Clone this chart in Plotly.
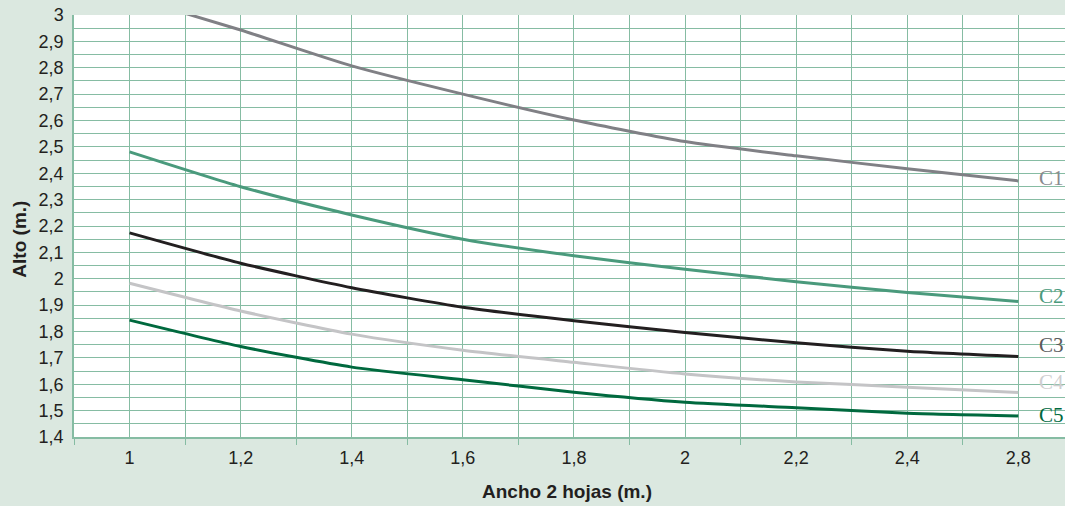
import plotly.graph_objects as go

# ---- data ----
x_labels = ["1", "1,2", "1,4", "1,6", "1,8", "2", "2,2", "2,4", "2,8"]
series_names = ["C1", "C2", "C3", "C4", "C5"]
c1 = [3.07, 2.943, 2.807, 2.700, 2.602, 2.520, 2.466, 2.417, 2.371]
c2 = [2.481, 2.349, 2.242, 2.150, 2.087, 2.036, 1.989, 1.948, 1.914]
c3 = [2.174, 2.059, 1.966, 1.892, 1.841, 1.796, 1.757, 1.725, 1.705]
c4 = [1.983, 1.878, 1.790, 1.729, 1.683, 1.639, 1.609, 1.589, 1.569]
c5 = [1.843, 1.743, 1.665, 1.617, 1.570, 1.532, 1.511, 1.490, 1.480]
y_tick_values = [1.4, 1.5, 1.6, 1.7, 1.8, 1.9, 2.0, 2.1, 2.2, 2.3, 2.4, 2.5, 2.6, 2.7, 2.8, 2.9, 3.0]
y_tick_labels = ["1,4", "1,5", "1,6", "1,7", "1,8", "1,9", "2", "2,1", "2,2", "2,3",
                 "2,4", "2,5", "2,6", "2,7", "2,8", "2,9", "3"]

# ---- style ----
line_colors = ["#808085", "#4a9a7c", "#231f20", "#c4c4c6", "#00693e"]
label_colors = ["#8a8a8e", "#4a9a7c", "#5a5a5c", "#cfcfd1", "#00693e"]
label_dy = [0.012, 0.022, 0.042, 0.038, 0.002]
bg = "#dbe8e0"
grid = "#86bca3"

xs = list(range(len(x_labels)))
all_series = [c1, c2, c3, c4, c5]

fig = go.Figure()
for name, ys, col in zip(series_names, all_series, line_colors):
    fig.add_trace(go.Scatter(
        x=xs, y=ys, mode="lines", name=name,
        line=dict(color=col, width=3, shape="spline", smoothing=0.6),
        showlegend=False, hoverinfo="skip"))

for name, ys, col, dy in zip(series_names, all_series, label_colors, label_dy):
    fig.add_annotation(
        x=xs[-1] + 0.30, y=ys[-1] + dy, xref="x", yref="y",
        text=name, showarrow=False, xanchor="center", yanchor="middle",
        font=dict(family="Liberation Serif", size=21, color=col))

fig.add_annotation(
    xref="paper", yref="paper", x=-0.0545, y=0.47, text="<b>Alto (m.)</b>",
    textangle=-90, showarrow=False, xanchor="center", yanchor="middle",
    font=dict(family="Liberation Sans", size=19, color="#231f20"))
fig.add_annotation(
    xref="paper", yref="paper", x=0.497, y=-0.13, text="<b>Ancho 2 hojas (m.)</b>",
    showarrow=False, xanchor="center", yanchor="middle",
    font=dict(family="Liberation Sans", size=19, color="#231f20"))

fig.update_layout(
    width=1065, height=506,
    margin=dict(l=74, r=0, t=15, b=69),
    paper_bgcolor=bg, plot_bgcolor="white",
    font=dict(family="Liberation Sans", size=18, color="#231f20"),
)
fig.update_xaxes(
    range=[-0.5, 8.42], tickmode="array", tickvals=xs, ticktext=x_labels,
    showgrid=True, gridcolor=grid, gridwidth=1, ticks="",
    showline=True, linecolor=grid, linewidth=1.5,
    ticklabelstandoff=4, zeroline=False,
    minor=dict(tickmode="linear", tick0=-0.5, dtick=1, ticks="outside",
               ticklen=6, tickcolor=grid, showgrid=True, gridcolor=grid, gridwidth=1),
)
fig.update_yaxes(
    range=[1.4, 3.0], tickmode="array", tickvals=y_tick_values, ticktext=y_tick_labels,
    showgrid=True, gridcolor=grid, gridwidth=1, ticks="",
    showline=True, linecolor=grid, linewidth=1.5, zeroline=False,
    ticklabelstandoff=5,
    minor=dict(tickmode="linear", tick0=1.45, dtick=0.1, showgrid=True,
               gridcolor=grid, gridwidth=1),
)

fig.write_html("out.html", config={"displayModeBar": False},
               post_script="document.body.style.margin='0';")
